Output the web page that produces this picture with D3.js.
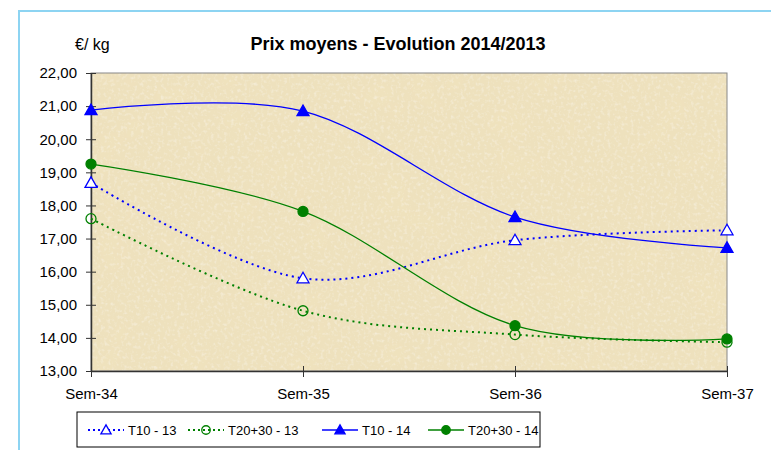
<!DOCTYPE html>
<meta charset="utf-8">
<html>
<head>
    <script src="https://d3js.org/d3.v7.min.js"></script>
    <style>
        body { margin: 0; background: #fff; font-family: 'Liberation Sans', Arial, sans-serif; }
        svg text { font-family: 'Liberation Sans', Arial, sans-serif; }
    </style>
</head>
<body>
<svg width="771" height="450"></svg>
<script>
    const weeks = ["Sem-34", "Sem-35", "Sem-36", "Sem-37"];
    const yTicks = [13, 14, 15, 16, 17, 18, 19, 20, 21, 22];

    const t10_13 = [18.68, 15.8, 16.95, 17.25];
    const t2030_13 = [17.6, 14.82, 14.1, 13.87];
    const t10_14 = [20.88, 20.85, 17.65, 16.72];
    const t2030_14 = [19.25, 17.82, 14.37, 13.97];

    const series = [
        { name: "T10 - 13", values: t10_13, color: "#0000ff", dashed: true, marker: "triHollow" },
        { name: "T20+30 - 13", values: t2030_13, color: "#008000", dashed: true, marker: "circHollow" },
        { name: "T10 - 14", values: t10_14, color: "#0000ff", dashed: false, marker: "triFilled" },
        { name: "T20+30 - 14", values: t2030_14, color: "#008000", dashed: false, marker: "circFilled" }
    ];

    const svg = d3.select("svg");
    const margin = { top: 73, right: 44, bottom: 79, left: 91 };
    const innerWidth = 771 - margin.left - margin.right;
    const innerHeight = 450 - margin.top - margin.bottom;

    // parchment-like texture: soft blotches plus light grain
    const defs = svg.append("defs");
    const filt = defs.append("filter").attr("id", "paper")
        .attr("x", 0).attr("y", 0).attr("width", "100%").attr("height", "100%");
    filt.append("feTurbulence").attr("type", "fractalNoise")
        .attr("baseFrequency", "0.025").attr("numOctaves", 2).attr("seed", 7).attr("result", "big");
    filt.append("feColorMatrix").attr("in", "big").attr("type", "matrix")
        .attr("values", "0 0 0 0 0.88  0 0 0 0 0.76  0 0 0 0 0.5  1.1 0 0 0 -0.45").attr("result", "bigc");
    filt.append("feTurbulence").attr("type", "fractalNoise")
        .attr("baseFrequency", "0.3").attr("numOctaves", 2).attr("seed", 3).attr("result", "fine");
    filt.append("feColorMatrix").attr("in", "fine").attr("type", "matrix")
        .attr("values", "0 0 0 0 0.98  0 0 0 0 0.96  0 0 0 0 0.9  1.0 0 0 0 -0.5").attr("result", "finec");
    filt.append("feMerge").call(m => {
        m.append("feMergeNode").attr("in", "SourceGraphic");
        m.append("feMergeNode").attr("in", "bigc");
        m.append("feMergeNode").attr("in", "finec");
    });
    filt.append("feComposite").attr("in2", "SourceGraphic").attr("operator", "in");

    // outer frame
    svg.append("rect").attr("x", 19).attr("y", 11).attr("width", 800).attr("height", 500)
        .attr("fill", "none").attr("stroke", "#8dd4f2").attr("stroke-width", 2);

    const g = svg.append("g").attr("transform", `translate(${margin.left},${margin.top})`);

    const x = d3.scalePoint().domain(weeks).range([0, innerWidth]);
    const y = d3.scaleLinear().domain([13, 22]).range([innerHeight, 0]);

    g.append("rect").attr("width", innerWidth).attr("height", innerHeight)
        .attr("fill", "#eee1bd").attr("filter", "url(#paper)");
    g.append("rect").attr("width", innerWidth).attr("height", innerHeight)
        .attr("fill", "none").attr("stroke", "#888").attr("stroke-width", 1);

    const fmt = d => d3.format(".2f")(d).replace(".", ",");

    const yAxis = g.append("g")
        .call(d3.axisLeft(y).tickValues(yTicks).tickFormat(fmt).tickSizeInner(5).tickSizeOuter(0).tickPadding(9))
        .attr("font-size", 15).attr("font-family", null);
    yAxis.selectAll(".tick line").attr("x2", 5).attr("x1", -5).attr("stroke", "#333");
    yAxis.select(".domain").attr("stroke", "#333").attr("stroke-width", 1.5);
    yAxis.selectAll(".tick text").attr("fill", "#000");

    const xAxis = g.append("g")
        .attr("transform", `translate(0,${innerHeight})`)
        .call(d3.axisBottom(x).tickSizeInner(5).tickSizeOuter(0).tickPadding(12))
        .attr("font-size", 15).attr("font-family", null);
    xAxis.selectAll(".tick line").attr("y1", -5).attr("y2", 6).attr("stroke", "#333");
    xAxis.select(".domain").attr("stroke", "#333").attr("stroke-width", 1.5);
    xAxis.selectAll(".tick text").attr("fill", "#000");

    const line = d3.line()
        .x((d, i) => x(weeks[i]))
        .y(d => y(d))
        .curve(d3.curveCardinal.tension(0));

    function drawMarker(sel, type, color, cx, cy, scale) {
        const s = scale || 1;
        if (type === "triHollow" || type === "triFilled") {
            const h = 6 * s;
            sel.append("path")
                .attr("d", `M${cx},${cy - h} L${cx + h},${cy + h * 0.75} L${cx - h},${cy + h * 0.75} Z`)
                .attr("fill", type === "triFilled" ? color : "#fff")
                .attr("stroke", color).attr("stroke-width", 1.3);
        } else {
            sel.append("circle").attr("cx", cx).attr("cy", cy).attr("r", 5 * s)
                .attr("fill", type === "circFilled" ? color : "none")
                .attr("stroke", color).attr("stroke-width", 1.3);
        }
    }

    series.forEach(s => {
        g.append("path").datum(s.values)
            .attr("d", line)
            .attr("fill", "none")
            .attr("stroke", s.color)
            .attr("stroke-width", s.dashed ? 2 : 1.3)
            .attr("stroke-dasharray", s.dashed ? "2,4" : null);
    });
    series.forEach(s => {
        s.values.forEach((v, i) => drawMarker(g, s.marker, s.color, x(weeks[i]), y(v)));
    });

    // axis unit and title
    svg.append("text").attr("x", 75).attr("y", 50).attr("font-size", 16).text("€/ kg");
    svg.append("text").attr("x", 398).attr("y", 50).attr("text-anchor", "middle")
        .attr("font-size", 18).attr("font-weight", "bold")
        .text("Prix moyens - Evolution 2014/2013");

    // legend
    const lg = svg.append("g");
    lg.append("rect").attr("x", 77).attr("y", 412).attr("width", 463).attr("height", 35)
        .attr("fill", "#fff").attr("stroke", "#000").attr("stroke-width", 1);
    const legendX = [88, 188, 322, 428];
    series.forEach((s, i) => {
        const lx = legendX[i], ly = 430;
        lg.append("line").attr("x1", lx).attr("x2", lx + 36).attr("y1", ly).attr("y2", ly)
            .attr("stroke", s.color)
            .attr("stroke-width", s.dashed ? 2 : 1.3)
            .attr("stroke-dasharray", s.dashed ? "2,3" : null);
        drawMarker(lg, s.marker, s.color, lx + 18, ly, 0.85);
        lg.append("text").attr("x", lx + 40).attr("y", ly + 5).attr("font-size", 13)
            .text(s.name);
    });
</script>
</body>
</html>
